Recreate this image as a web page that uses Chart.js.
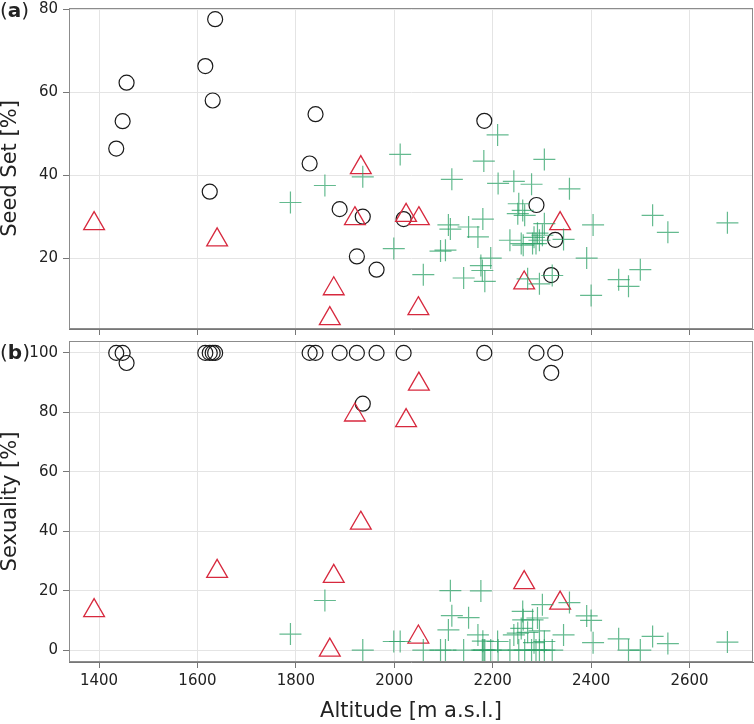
<!DOCTYPE html>
<html>
<head>
<meta charset="utf-8">
<script src="https://cdn.jsdelivr.net/npm/chart.js@4/dist/chart.umd.min.js"></script>
<style>
  body { margin: 0; background: #fff; }
  #wrap { position: relative; width: 754px; height: 724px; overflow: hidden; }
  canvas { position: absolute; left: 0; }
  .panel { position: absolute; left: 0; font: 20px "DejaVu Sans", sans-serif; color: #222; }
</style>
</head>
<body>
<div id="wrap">
  <canvas id="chartA" width="754" height="340" style="top:0"></canvas>
  <canvas id="chartB" width="754" height="394" style="top:330px"></canvas>
  <div class="panel" style="top:-2px">(<b>a</b>)</div>
  <div class="panel" style="top:340px">(<b>b</b>)</div>
</div>
<script>
// axis ticks
const altTicks = [1400, 1600, 1800, 2000, 2200, 2400, 2600];
const seedTicks = [20, 40, 60, 80];
const sexTicks = [0, 20, 40, 60, 80, 100];

// circles (black)
const circleAlt  = [1435, 1448, 1456, 1616, 1625, 1631, 1636, 1828, 1840, 1889, 1924, 1936, 1964, 2019, 2183, 2289, 2319, 2327];
const circleSeed = [46.4, 53.0, 62.3, 66.3, 36.0, 58.0, 77.6, 42.8, 54.7, 31.8, 20.4, 30.0, 17.2, 29.4, 53.1, 32.8, 15.9, 24.4];
const circleSex  = [100, 100, 96.6, 100, 100, 100, 100, 100, 100, 100, 100, 82.9, 100, 100, 100, 100, 93.3, 100];

// triangles (red)
const triAlt  = [1390, 1640, 1869, 1877, 1920, 1932, 2024, 2049, 2050, 2264, 2337];
const triSeed = [28.3, 24.4, 5.4, 12.6, 29.5, 41.8, 30.3, 7.8, 29.5, 14.0, 28.3];
const triSex  = [13.3, 26.5, 0, 24.8, 79.1, 42.7, 77.2, 4.4, 89.5, 22.7, 15.8];

// crosses (green)
const crossAlt  = [1789, 1859, 1936, 1999, 2012, 2059, 2094, 2104, 2110, 2114, 2117, 2141, 2151, 2170, 2176, 2179, 2180, 2182, 2184, 2196,
                   2210, 2211, 2235, 2243, 2251, 2253, 2258, 2261, 2262, 2265, 2271, 2279, 2281, 2284, 2288, 2291, 2295, 2295, 2301, 2305,
                   2305, 2321, 2344, 2356, 2391, 2400, 2404, 2456, 2476, 2500, 2525, 2556, 2677];
const crossSeed = [33.4, 37.5, 39.6, 22.3, 45.0, 16.0, 21.7, 21.9, 28.0, 27.0, 39.0, 15.2, 27.5, 25.1, 18.2, 17.0, 29.4, 43.4, 14.4, 20.0,
                   49.7, 38.0, 24.3, 38.5, 30.7, 33.1, 23.5, 31.5, 23.1, 30.3, 15.0, 37.8, 23.5, 25.0, 23.5, 26.0, 13.8, 24.3, 25.5, 43.8,
                   28.3, 15.8, 24.5, 36.7, 20.0, 11.0, 28.0, 14.8, 13.2, 17.2, 30.3, 26.2, 28.5];
const crossSex  = [5.4, 16.7, 0, 2.9, 2.9, 0, 0, 0, 6.8, 20.0, 11.6, 0, 10.9, 5.1, 19.9, 0, 3.0, 0, 0, 0,
                   2.9, 0, 0, 5.1, 5.7, 0, 7.3, 13.0, 10.2, 0, 6.0, 0, 10.2, 2.5, 0, 10.8, 6.5, 0, 15.3, 0,
                   2.9, 0, 5.1, 16.0, 11.5, 10.0, 2.5, 3.8, 0, 0, 4.6, 2.2, 2.7];

const FONT = '"DejaVu Sans", sans-serif';

function pts(xs, ys) {
  return xs.map((x, i) => ({ x: x, y: ys[i] }));
}

const framePlugin = {
  id: 'frame',
  afterDraw(chart) {
    const a = chart.chartArea;
    const ctx = chart.ctx;
    ctx.save();
    ctx.strokeStyle = '#8c8c8c';
    ctx.lineWidth = 1;
    ctx.strokeRect(a.left + 0.5, a.top + 0.5, a.right - a.left - 1, a.bottom - a.top - 1);
    ctx.restore();
  }
};

function makeDatasets(crossY, triY, circleY) {
  return [
    {
      label: 'cross',
      data: pts(crossAlt, crossY),
      pointStyle: 'cross',
      pointRadius: 11,
      pointBorderWidth: 1.2,
      borderColor: 'rgba(40,160,100,0.72)',
      backgroundColor: 'rgba(40,160,100,0.72)'
    },
    {
      label: 'triangle',
      data: pts(triAlt, triY),
      pointStyle: 'triangle',
      pointRadius: 12,
      pointBorderWidth: 1.3,
      borderColor: '#d7293e',
      backgroundColor: 'rgba(0,0,0,0)'
    },
    {
      label: 'circle',
      data: pts(circleAlt, circleY),
      pointStyle: 'circle',
      pointRadius: 7.5,
      pointBorderWidth: 1.2,
      borderColor: '#1a1a1a',
      backgroundColor: 'rgba(0,0,0,0)'
    }
  ];
}

function drawPanel(canvasId, opts) {
  const ctx = document.getElementById(canvasId).getContext('2d');
  return new Chart(ctx, {
    type: 'scatter',
    data: { datasets: makeDatasets(opts.crossY, opts.triY, opts.circleY) },
    options: {
      responsive: false,
      animation: false,
      layout: { autoPadding: false, padding: { top: opts.padTop, right: 1, left: 0, bottom: 0 } },
      plugins: { legend: { display: false }, tooltip: { enabled: false } },
      scales: {
        x: {
          type: 'linear',
          min: 1339,
          max: 2729,
          afterBuildTicks: s => { s.ticks = altTicks.map(v => ({ value: v })); },
          afterFit: s => { s.height = opts.xHeight; },
          grid: { color: '#e4e4e4', tickColor: '#777', tickLength: 6 },
          border: { color: '#777' },
          ticks: {
            display: opts.showX,
            color: '#222',
            padding: 4,
            maxRotation: 0,
            callback: v => String(v),
            font: { family: FONT, size: 15 }
          },
          title: {
            display: opts.showX,
            text: 'Altitude [m a.s.l.]',
            color: '#222',
            padding: { top: 0, bottom: 0 },
            font: { family: FONT, size: 21 }
          }
        },
        y: {
          type: 'linear',
          min: opts.yMin,
          max: opts.yMax,
          afterBuildTicks: s => { s.ticks = opts.yTicks.map(v => ({ value: v })); },
          afterFit: s => { s.width = 69; },
          grid: { color: '#e4e4e4', tickColor: '#777', tickLength: 6 },
          border: { color: '#777' },
          ticks: {
            color: '#222',
            padding: 5,
            callback: v => String(v),
            font: { family: FONT, size: 15, lineHeight: 0.2 }
          },
          title: {
            display: true,
            text: opts.yTitle,
            color: '#222',
            padding: 0,
            font: { family: FONT, size: 21, lineHeight: 1 }
          }
        }
      }
    },
    plugins: [framePlugin]
  });
}

drawPanel('chartA', {
  crossY: crossSeed, triY: triSeed, circleY: circleSeed,
  yMin: 2.9, yMax: 80.3, yTicks: seedTicks, yTitle: 'Seed Set [%]',
  padTop: 8, xHeight: 11, showX: false
});

drawPanel('chartB', {
  crossY: crossSex, triY: triSex, circleY: circleSex,
  yMin: -4, yMax: 104, yTicks: sexTicks, yTitle: 'Sexuality [%]',
  padTop: 11, xHeight: 62, showX: true
});
</script>
</body>
</html>
